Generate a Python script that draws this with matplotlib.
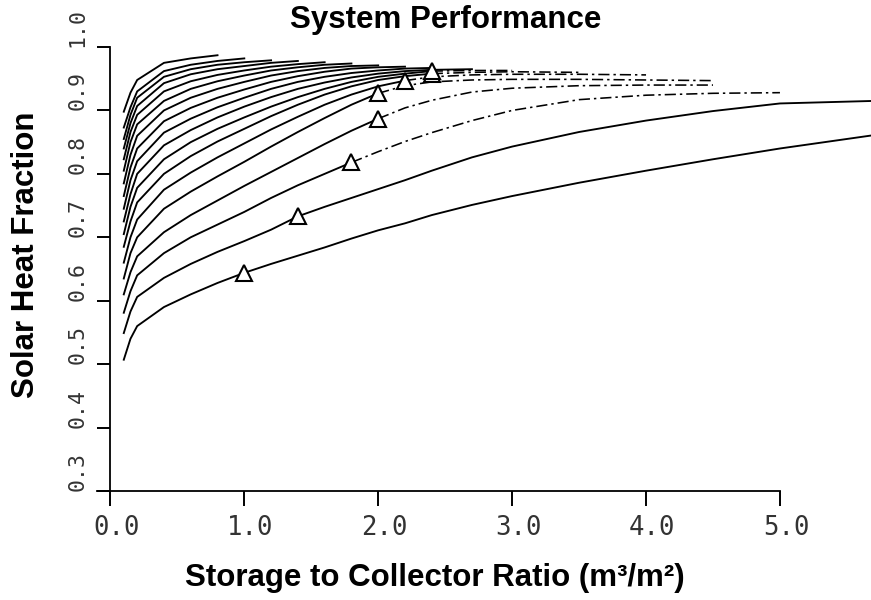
import numpy as np
import matplotlib
matplotlib.use("Agg")
import matplotlib.pyplot as plt
from matplotlib.transforms import ScaledTranslation

# storage to collector ratio (m3/m2) at which every curve is tabulated
ratio = [0.1, 0.15, 0.2, 0.4, 0.6, 0.8, 1.0, 1.2, 1.4, 1.6, 1.8, 2.0,
         2.2, 2.4, 2.7, 3.0, 3.5, 4.0, 4.5, 5.0, 5.7]

# solar heat fraction, one list per collector size (bottom curve first);
# shorter lists stop earlier along the ratio axis
f01 = [0.507, 0.540, 0.560, 0.590, 0.610, 0.628, 0.644, 0.658, 0.671, 0.684, 0.698,
       0.711, 0.722, 0.735, 0.751, 0.765, 0.786, 0.805, 0.823, 0.840, 0.861]
f02 = [0.549, 0.583, 0.606, 0.636, 0.658, 0.677, 0.694, 0.712, 0.733, 0.748, 0.762,
       0.776, 0.790, 0.805, 0.826, 0.843, 0.866, 0.884, 0.899, 0.911, 0.915]
f03 = [0.581, 0.615, 0.640, 0.675, 0.700, 0.720, 0.740, 0.762, 0.782, 0.800, 0.818,
       0.835, 0.851, 0.865, 0.884, 0.900, 0.917, 0.924, 0.927, 0.928]
f04 = [0.610, 0.645, 0.670, 0.708, 0.735, 0.758, 0.781, 0.803, 0.825, 0.847, 0.868,
       0.887, 0.904, 0.916, 0.929, 0.935, 0.939, 0.940, 0.940]
f05 = [0.635, 0.675, 0.700, 0.745, 0.772, 0.796, 0.819, 0.843, 0.866, 0.888, 0.909,
       0.927, 0.939, 0.945, 0.948, 0.949, 0.949, 0.948, 0.947]
f06 = [0.660, 0.700, 0.728, 0.775, 0.802, 0.826, 0.848, 0.870, 0.890, 0.909, 0.925,
       0.938, 0.947, 0.953, 0.956, 0.957, 0.957, 0.956]
f07 = [0.685, 0.725, 0.755, 0.800, 0.828, 0.851, 0.871, 0.891, 0.909, 0.925, 0.938,
       0.948, 0.954, 0.958, 0.960, 0.961, 0.960]
f08 = [0.705, 0.748, 0.778, 0.823, 0.850, 0.871, 0.889, 0.906, 0.921, 0.934, 0.945,
       0.953, 0.958, 0.962, 0.963, 0.963]
f09 = [0.725, 0.768, 0.800, 0.845, 0.869, 0.889, 0.906, 0.921, 0.934, 0.944, 0.952,
       0.958, 0.962, 0.964, 0.965]
f10 = [0.745, 0.790, 0.820, 0.865, 0.887, 0.905, 0.920, 0.934, 0.945, 0.953, 0.959,
       0.963, 0.966, 0.967]
f11 = [0.765, 0.810, 0.840, 0.883, 0.904, 0.920, 0.933, 0.945, 0.954, 0.961, 0.966,
       0.968, 0.969]
f12 = [0.785, 0.830, 0.860, 0.900, 0.920, 0.934, 0.945, 0.955, 0.962, 0.967, 0.970,
       0.971]
f13 = [0.805, 0.850, 0.878, 0.915, 0.934, 0.946, 0.955, 0.963, 0.968, 0.972, 0.974]
f14 = [0.823, 0.866, 0.893, 0.930, 0.946, 0.956, 0.963, 0.969, 0.973, 0.976]
f15 = [0.840, 0.880, 0.907, 0.943, 0.957, 0.965, 0.970, 0.975, 0.978]
f16 = [0.855, 0.893, 0.920, 0.953, 0.965, 0.972, 0.976, 0.979]
f17 = [0.873, 0.905, 0.930, 0.962, 0.972, 0.978, 0.982]
f18 = [0.898, 0.928, 0.948, 0.975, 0.982, 0.987]

curves = [f01, f02, f03, f04, f05, f06, f07, f08, f09,
          f10, f11, f12, f13, f14, f15, f16, f17, f18]

# optimum points (triangles): which curve and at what ratio
opt_curve = [0, 1, 2, 3, 4, 5, 6, 7]
opt_ratio = [1.0, 1.4, 1.8, 2.0, 2.0, 2.2, 2.4, 2.4]

xticks = [0.0, 1.0, 2.0, 3.0, 4.0, 5.0]
yticks = [0.3, 0.4, 0.5, 0.6, 0.7, 0.8, 0.9, 1.0]

W, H = 871, 600
fig = plt.figure(figsize=(W / 100, H / 100), dpi=100)
ax = fig.add_axes([97 / W, 1 - 491 / H, 774 / W, 444 / H])
ax.set_xlim(-0.1, 5.68)
ax.set_ylim(0.3, 1.0)

lw = 1.35
for i, fr in enumerate(curves):
    xs = ratio[:len(fr)]
    if i in opt_curve and i >= 2:
        # past the optimum the printed line is broken up
        k = xs.index(opt_ratio[opt_curve.index(i)])
        ax.plot(xs[:k + 1], fr[:k + 1], color="black", lw=lw)
        ax.plot(xs[k:], fr[k:], color="black", lw=lw * 0.85,
                dashes=(7, 2.5, 1.5, 2.5))
    else:
        ax.plot(xs, fr, color="black", lw=lw)

opt_y = [np.interp(x, ratio[:len(curves[c])], curves[c])
         for c, x in zip(opt_curve, opt_ratio)]
ax.plot(opt_ratio, opt_y, linestyle="none", marker="^", markersize=11,
        markerfacecolor="white", markeredgecolor="black", markeredgewidth=1.5,
        zorder=5)

# axes drawn like the old plotter output
for s in ["top", "right"]:
    ax.spines[s].set_visible(False)
ax.spines["left"].set_position(("data", 0.0))
ax.spines["left"].set_bounds(0.3, 1.0)
ax.spines["bottom"].set_bounds(-0.1, 5.0)
ax.spines["left"].set_linewidth(1.3)
ax.spines["bottom"].set_linewidth(1.3)

ax.set_xticks(xticks)
ax.set_xticklabels(["%.1f" % v for v in xticks], family="DejaVu Sans Mono",
                   size=18.5, color="#333333")
ax.set_yticks(yticks)
ax.set_yticklabels(["%.1f" % v for v in yticks], rotation=90, va="bottom",
                   family="DejaVu Sans Mono", size=15.5, color="#333333")
ax.tick_params(axis="x", direction="out", length=11, width=1.4, pad=6)
ax.tick_params(axis="y", direction="out", length=9.5, width=1.4, pad=7)
shift = ScaledTranslation(0.06, 0, fig.dpi_scale_trans)
for lab in ax.get_xticklabels():
    lab.set_transform(lab.get_transform() + shift)

label_font = dict(family="Liberation Sans", weight="bold", size=22.5)
fig.text(446 / W, 1 - 28 / H, "System Performance", ha="center",
         va="baseline", **label_font)
fig.text(435 / W, 1 - 586 / H, "Storage to Collector Ratio (m³/m²)",
         ha="center", va="baseline", **label_font)
fig.text(26 / W, 1 - 255 / H, "Solar Heat Fraction", rotation=90,
         ha="center", va="center", **label_font)

fig.savefig("out.png", dpi=100)
